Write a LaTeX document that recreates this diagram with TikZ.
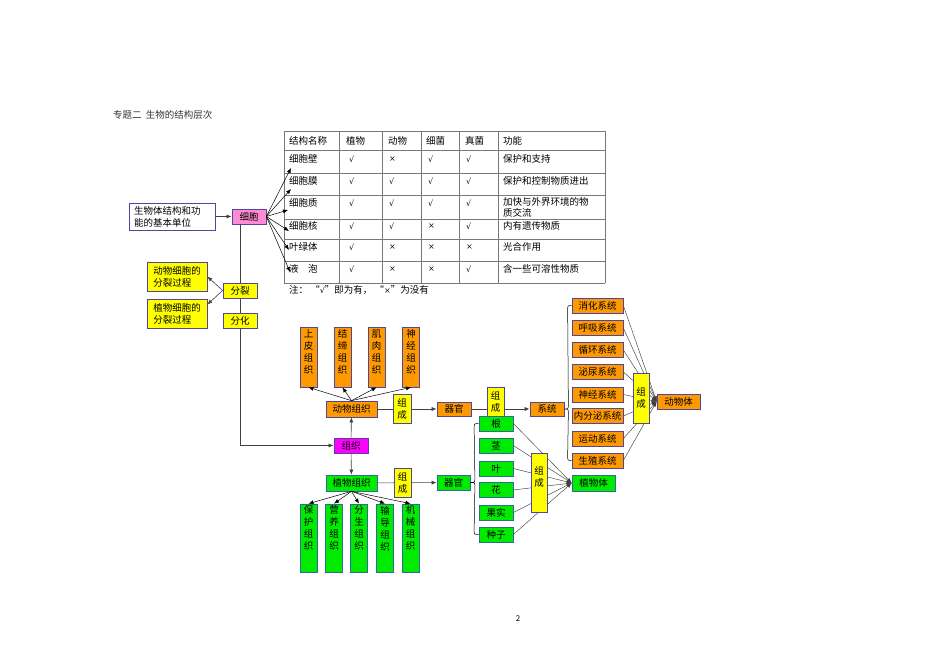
\documentclass[tikz,border=0pt]{standalone}
\usepackage{fontspec}
\setmainfont{Noto Sans CJK SC}
\newfontfamily\symf{DejaVu Serif}
\usetikzlibrary{arrows.meta,calc}
\definecolor{org}{RGB}{255,153,0}
\definecolor{grn}{RGB}{0,235,0}
\definecolor{ylw}{RGB}{255,255,0}
\definecolor{mag}{RGB}{255,0,255}
\definecolor{pnk}{RGB}{255,140,210}
\definecolor{bd}{RGB}{80,70,160}
\definecolor{gbd}{RGB}{40,110,150}
\definecolor{tbl}{RGB}{120,120,120}
\begin{document}
\begin{tikzpicture}[x=1pt,y=-1pt,
  every node/.style={font=\fontsize{9.5}{12}\selectfont, inner sep=0pt},
  bx/.style 2 args={draw=bd, line width=0.7pt, minimum width=#1, minimum height=#2},
  obox/.style={fill=org},
  gbox/.style={fill=grn, draw=gbd},
  ybox/.style={fill=ylw},
  arr/.style={-{Latex[length=5pt,width=4pt]}},
  conn/.style={draw=black!75, line width=0.6pt},
  fan/.style={draw=black!75, line width=0.45pt, -{Latex[length=5pt,width=4pt]}},
  tline/.style={draw=tbl, line width=0.7pt},
  cell/.style={anchor=west},
  mk/.style={anchor=west, font=\fontsize{8}{10}\symf}
]
\useasboundingbox (0,0) rectangle (950,671);

% title
\node[anchor=west, text=black!80] (title) at (113,115) {专题二\ \ 生物的结构层次};

% cell part
\node[bx={86pt}{27pt}, fill=white, align=left, text width=76pt] (jbdw) at (172,216.5) {生物体结构和功\\能的基本单位};
\node[bx={34pt}{15pt}, fill=pnk] (xibao) at (249,216.5) {细胞};
\draw[conn,arr] (jbdw) -- (xibao);

\node[bx={34pt}{15pt}, fill=mag] (zuzhi) at (351,445.5) {组织};
\draw[conn,arr] (xibao.south -| 240,0) |- (zuzhi.west);

\node[bx={34pt}{15pt}, ybox] (fenlie) at (240,290.5) {分裂};
\node[bx={34pt}{15pt}, ybox] (fenhua) at (240,320.5) {分化};
\node[bx={60pt}{29pt}, ybox, align=left] (dongfen) at (177,276.5) {动物细胞的\\分裂过程};
\node[bx={60pt}{29pt}, ybox, align=left] (zhifen) at (177,313.5) {植物细胞的\\分裂过程};
\draw[conn,arr] (fenlie.west) -- (dongfen.east);
\draw[conn,arr] (fenlie.west) -- ($(zhifen.east)+(0,-9)$);

% table
\foreach \x in {284,339,382,421,459,498,605} \draw[tline] (\x,131) -- (\x,283);
\foreach \y in {131,150,173,195,219,239,261,283} \draw[tline] (284,\y) -- (605,\y);
\node[cell] (h1) at (289,141) {结构名称};
\node[cell] (h2) at (346,141) {植物};
\node[cell] (h3) at (388,141) {动物};
\node[cell] (h4) at (426,141) {细菌};
\node[cell] (h5) at (465,141) {真菌};
\node[cell] (h6) at (503,141) {功能};
\foreach \i/\y/\nm/\a/\b/\c/\d in {1/159/细胞壁/√/×/√/√, 2/181/细胞膜/√/√/√/√, 3/203/细胞质/√/√/√/√, 4/226/细胞核/√/√/×/√, 5/247/叶绿体/√/×/×/×, 6/269/液　泡/√/×/×/√}{
  \node[cell] (r\i n) at (289,\y) {\nm};
  \node[mk] (r\i a) at (349,\y) {\a};
  \node[mk] (r\i b) at (389,\y) {\b};
  \node[mk] (r\i c) at (428,\y) {\c};
  \node[mk] (r\i d) at (466,\y) {\d};
}
\node[cell] (f1) at (503,159) {保护和支持};
\node[cell] (f2) at (503,181) {保护和控制物质进出};
\node[anchor=north west, align=left, font=\fontsize{9.5}{11}\selectfont] (f3) at (503,197.5) {加快与外界环境的物\\质交流};
\node[cell] (f4) at (503,226) {内有遗传物质};
\node[cell] (f5) at (503,247) {光合作用};
\node[cell] (f6) at (503,269) {含一些可溶性物质};
\node[anchor=west] (note) at (289,290) {注：\ “{\symf\fontsize{8}{10}\selectfont √}”即为有，\ “{\symf\fontsize{8}{10}\selectfont ×}”为没有};

\coordinate (t1) at (291,168);
\coordinate (t2) at (291,189);
\coordinate (t3) at (288,210);
\coordinate (t4) at (289,231);
\coordinate (t5) at (289,250);
\coordinate (t6) at (290,272);
\foreach \t in {t1,t2,t3,t4,t5,t6} \draw[black, line width=0.5pt, arr] (xibao.east) -- (\t);

% animal tissues
\node[bx={51pt}{16pt}, obox] (dwzz) at (351.5,409) {动物组织};
\foreach \n/\x/\t in {sp/308.5/上\\皮\\组\\织, jd/342.5/结\\缔\\组\\织, jr/376.5/肌\\肉\\组\\织, sj/411/神\\经\\组\\织}{
  \node[bx={17pt}{60pt}, obox, align=center, text depth=10pt] (\n) at (\x,357) {\t};
  \draw[black, line width=0.5pt, arr] (dwzz.north) -- (\n.south);
}
\draw[conn,arr] (zuzhi) -- (dwzz);
\node[bx={34pt}{14pt}, obox] (qg1) at (454,409) {器官};
\node[bx={34pt}{14pt}, obox] (xt) at (547,409) {系统};
\draw[conn,arr] (dwzz) -- (qg1);
\draw[conn,arr] (qg1) -- (xt);
\node[bx={18pt}{29pt}, ybox, align=center] (zc1) at (402,408.5) {组\\成};
\node[bx={17pt}{29pt}, ybox, align=center] (zc2) at (495.5,401.5) {组\\成};

% systems
\foreach \n/\y/\t in {s1/305.5/消化系统, s2/328/呼吸系统, s3/350/循环系统, s4/372/泌尿系统, s5/394.5/神经系统, s6/416/内分泌系统, s7/438.5/运动系统, s8/460.5/生殖系统}{
  \node[bx={51pt}{15pt}, obox] (\n) at (597.5,\y) {\t};
}
\node[bx={43pt}{15pt}, obox] (dwt) at (678.5,401.5) {动物体};
\foreach \n in {s1,s2,s3,s4,s5,s6,s7,s8} \draw[fan] (\n.east) -- (dwt.west);
\node[bx={16pt}{50pt}, ybox, align=center] (zc5) at (641,398) {组\\成};
\draw[black, line width=0.5pt] (s1.west) .. controls ($(s1.west)+(-4,0)$) .. ($(s1.west)+(-4,5)$)
  -- ($(xt.east)+(4,-5)$) .. controls ($(xt.east)+(4,0)$) .. (xt.east)
  .. controls ($(xt.east)+(4,0)$) .. ($(xt.east)+(4,5)$)
  -- ($(s8.west)+(-4,-5)$) .. controls ($(s8.west)+(-4,0)$) .. (s8.west);

% plant tissues
\node[bx={51pt}{16pt}, gbox] (zwzz) at (351.5,483) {植物组织};
\draw[conn,arr] (zuzhi) -- (zwzz);
\foreach \n/\x/\t in {bh/308.5/保\\护\\组\\织, yy/334/营\\养\\组\\织, fs/359/分\\生\\组\\织, sd/385/输\\导\\组\\织, jx/410.5/机\\械\\组\\织}{
  \node[bx={17pt}{68pt}, gbox, align=center, text depth=20pt] (\n) at (\x,538) {\t};
  \draw[black, line width=0.5pt, arr] (zwzz.south) -- (\n.north);
}
\node[bx={33pt}{15pt}, gbox] (qg2) at (453.5,482.5) {器官};
\draw[conn,arr] (zwzz) -- (qg2);
\node[bx={17pt}{29pt}, ybox, align=center] (zc3) at (402.5,482.5) {组\\成};

% organs
\foreach \n/\y/\t in {o1/423.5/根, o2/445.5/茎, o3/468.5/叶, o4/490/花, o5/512.5/果实, o6/534.5/种子}{
  \node[bx={34pt}{15pt}, gbox] (\n) at (496,\y) {\t};
}
\node[bx={43pt}{16pt}, gbox] (zwt) at (593.5,483) {植物体};
\foreach \n in {o1,o2,o3,o4,o5,o6} \draw[fan] (\n.east) -- (zwt.west);
\node[bx={16pt}{59pt}, ybox, align=center, text depth=11pt] (zc4) at (539,482.5) {组\\成};
\draw[black, line width=0.5pt] (o1.west) .. controls ($(o1.west)+(-4.5,0)$) .. ($(o1.west)+(-4.5,5)$)
  -- ($(qg2.east)+(4.5,-5)$) .. controls ($(qg2.east)+(4.5,0)$) .. (qg2.east)
  .. controls ($(qg2.east)+(4.5,0)$) .. ($(qg2.east)+(4.5,5)$)
  -- ($(o6.west)+(-4.5,-5)$) .. controls ($(o6.west)+(-4.5,0)$) .. (o6.west);

% page number
\node[font=\fontsize{8}{10}\selectfont] (pg) at (518,619) {2};
\end{tikzpicture}
\end{document}
